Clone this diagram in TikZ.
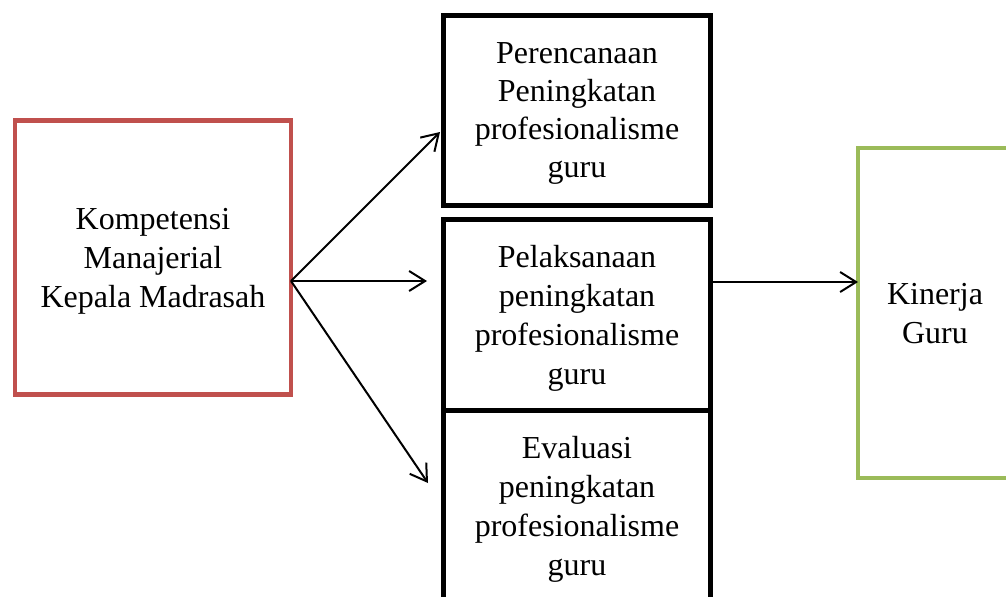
\documentclass[tikz,border=0pt]{standalone}
\usepackage{fontspec}
\setmainfont{Liberation Serif}
\usetikzlibrary{arrows.meta}
\definecolor{merah}{HTML}{C0504D}
\definecolor{hijau}{HTML}{9BBB59}
\begin{document}
\begin{tikzpicture}[x=0.5pt,y=-0.5pt,
	>={Straight Barb[length=8pt,width=10pt]},
	kotak/.style={draw,line width=2.5pt,inner sep=0pt,outer sep=0pt,align=center,
		font=\fontsize{16}{19.5}\selectfont,minimum width=133.5pt,text depth=0pt},
	panah/.style={->,line width=1pt}]
	
	% Batas gambar
	\useasboundingbox (0,0) rectangle (1006,596);
	
	% Kotak kiri
	\node[kotak,draw=merah,line width=2.25pt,minimum width=138pt,minimum height=137pt]
		(kompetensi) at (153,257.5) {Kompetensi\\Manajerial\\Kepala Madrasah};
	
	% Tiga kotak tengah
	\node[kotak,minimum height=95pt,text depth=-6pt,font=\fontsize{16}{19}\selectfont]
		(rencana) at (577,110.5) {Perencanaan\\Peningkatan\\profesionalisme\\guru};
	\node[kotak,minimum height=95.5pt] (laksana) at (577,314.5)
		{Pelaksanaan\\peningkatan\\profesionalisme\\guru};
	\node[kotak,minimum height=96pt] (evaluasi) at (577,506)
		{Evaluasi\\peningkatan\\profesionalisme\\guru};
	
	% Kotak kanan
	\node[kotak,draw=hijau,line width=2.25pt,minimum width=77pt,minimum height=165pt]
		(kinerja) at (935,313) {Kinerja\\Guru};
	
	% Titik ujung panah
	\coordinate (asal) at (291,281);
	\coordinate (ujung1) at (440,132);
	\coordinate (ujung2) at (427,281);
	\coordinate (ujung3) at (428,483);
	
	% Panah
	\draw[panah] (asal) -- (ujung1);
	\draw[panah] (asal) -- (ujung2);
	\draw[panah] (asal) -- (ujung3);
	\draw[panah] (laksana.east |- 0,282) -- (kinerja.west |- 0,282);
	
\end{tikzpicture}
\end{document}
